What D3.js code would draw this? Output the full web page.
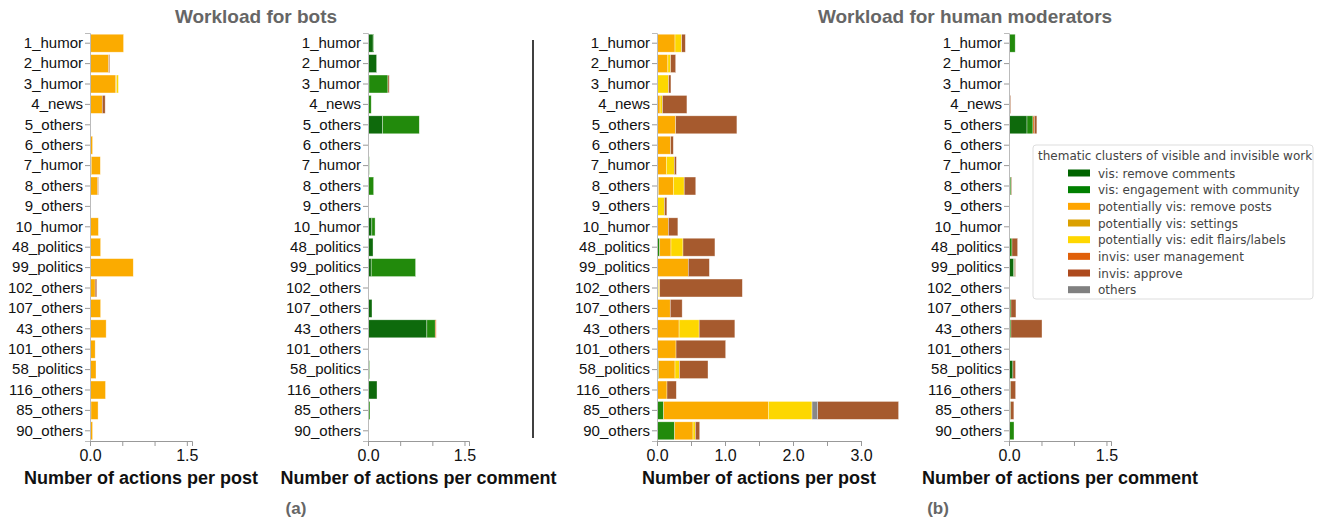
<!DOCTYPE html>
<html>
<head>
<meta charset="utf-8">
<script src="https://cdn.jsdelivr.net/npm/d3@7"></script>
<style>
  body { margin: 0; background: #fff; }
  svg { font-family: "Liberation Sans", Arial, sans-serif; }
  .legend text { font-family: "DejaVu Sans", "Bitstream Vera Sans", sans-serif; }
</style>
</head>
<body>
<svg id="chart" width="1325" height="521"></svg>
<script>
// subreddit categories, top to bottom
const categories = ["1_humor", "2_humor", "3_humor", "4_news", "5_others", "6_others", "7_humor",
    "8_others", "9_others", "10_humor", "48_politics", "99_politics", "102_others", "107_others",
    "43_others", "101_others", "58_politics", "116_others", "85_others", "90_others"];

// thematic clusters (legend order) and their colours
const clusters = ["vis: remove comments", "vis: engagement with community",
    "potentially vis: remove posts", "potentially vis: settings",
    "potentially vis: edit flairs/labels", "invis: user management", "invis: approve", "others"];
const clusterColors = ["#0e6a0c", "#228a0c", "#fbab00", "#d9a106", "#fdd700", "#e0640c", "#a65a2e", "#888888"];

// each row: values per cluster in the order of `clusters`
const botsPerPost = [
    [0, 0, 0.52, 0, 0, 0, 0, 0],
    [0, 0, 0.29, 0, 0, 0, 0.015, 0],
    [0, 0, 0.40, 0.01, 0.03, 0, 0, 0],
    [0, 0, 0.19, 0, 0, 0, 0.045, 0],
    [0, 0.01, 0, 0, 0, 0, 0, 0],
    [0, 0, 0.04, 0, 0, 0, 0, 0],
    [0, 0.02, 0.14, 0, 0, 0, 0, 0],
    [0, 0, 0.12, 0, 0, 0, 0.01, 0],
    [0, 0.005, 0, 0, 0, 0, 0, 0],
    [0, 0, 0.13, 0, 0, 0, 0, 0],
    [0, 0, 0.165, 0, 0, 0, 0, 0],
    [0, 0, 0.67, 0, 0, 0, 0, 0],
    [0, 0, 0.08, 0, 0, 0, 0.025, 0],
    [0, 0, 0.165, 0, 0, 0, 0, 0],
    [0, 0, 0.25, 0, 0, 0, 0, 0],
    [0, 0, 0.08, 0, 0, 0, 0, 0],
    [0, 0, 0.093, 0, 0, 0, 0, 0],
    [0, 0, 0.24, 0, 0, 0, 0, 0],
    [0, 0.015, 0.11, 0, 0, 0, 0, 0],
    [0, 0, 0.04, 0, 0, 0, 0, 0]
];

const botsPerComment = [
    [0.08, 0.01, 0, 0, 0, 0, 0, 0],
    [0.134, 0, 0, 0, 0, 0, 0, 0],
    [0.015, 0.295, 0, 0, 0, 0, 0.02, 0],
    [0.01, 0.04, 0, 0, 0, 0, 0, 0],
    [0.227, 0.57, 0, 0, 0, 0, 0, 0],
    [0, 0.005, 0, 0, 0, 0, 0, 0],
    [0, 0.02, 0, 0, 0, 0, 0, 0],
    [0.01, 0.078, 0, 0, 0, 0, 0, 0],
    [0, 0.003, 0, 0, 0, 0, 0, 0],
    [0.06, 0.05, 0, 0, 0, 0, 0, 0],
    [0.078, 0, 0, 0, 0, 0, 0, 0],
    [0.05, 0.69, 0, 0, 0, 0, 0, 0],
    [0, 0.005, 0, 0, 0, 0, 0, 0],
    [0.062, 0, 0, 0, 0, 0, 0, 0],
    [0.915, 0.13, 0, 0, 0, 0.015, 0, 0],
    [0, 0.005, 0, 0, 0, 0, 0, 0],
    [0.02, 0.006, 0, 0, 0, 0, 0, 0],
    [0.14, 0, 0, 0, 0, 0, 0, 0],
    [0, 0.03, 0, 0, 0, 0, 0, 0],
    [0, 0.003, 0, 0, 0, 0, 0, 0]
];

const humansPerPost = [
    [0, 0, 0.265, 0, 0.098, 0, 0.054, 0],
    [0, 0.01, 0.15, 0, 0.04, 0, 0.075, 0],
    [0, 0, 0.01, 0, 0.16, 0, 0.035, 0],
    [0, 0, 0.045, 0, 0.035, 0, 0.36, 0],
    [0, 0.005, 0.27, 0, 0, 0, 0.9, 0],
    [0, 0, 0.2, 0, 0, 0, 0.04, 0],
    [0, 0, 0.137, 0, 0.118, 0, 0.03, 0],
    [0, 0.02, 0.22, 0, 0.16, 0, 0.17, 0],
    [0, 0, 0.01, 0, 0.1, 0, 0.035, 0],
    [0, 0, 0.167, 0, 0, 0, 0.14, 0],
    [0.01, 0.03, 0.166, 0, 0.176, 0, 0.47, 0],
    [0, 0, 0.46, 0, 0, 0, 0.31, 0],
    [0, 0, 0.02, 0, 0.02, 0, 1.215, 0],
    [0, 0.005, 0.19, 0, 0, 0, 0.175, 0],
    [0, 0.005, 0.32, 0, 0.295, 0, 0.525, 0],
    [0, 0, 0.28, 0, 0, 0, 0.73, 0],
    [0, 0.025, 0.24, 0, 0.065, 0, 0.42, 0],
    [0, 0, 0.147, 0, 0, 0, 0.137, 0],
    [0, 0.098, 1.54, 0, 0.642, 0, 1.19, 0.083],
    [0, 0.26, 0.27, 0, 0.034, 0, 0.064, 0]
];

const humansPerComment = [
    [0.01, 0.085, 0, 0, 0, 0, 0, 0],
    [0, 0.003, 0, 0, 0, 0, 0, 0],
    [0, 0.003, 0, 0, 0, 0, 0, 0],
    [0, 0, 0, 0, 0, 0.01, 0.015, 0],
    [0.277, 0.092, 0, 0, 0, 0.02, 0.04, 0],
    [0, 0.005, 0, 0, 0, 0, 0, 0],
    [0, 0.003, 0, 0, 0, 0, 0, 0],
    [0, 0.03, 0, 0, 0, 0, 0.01, 0],
    [0, 0.003, 0, 0, 0, 0, 0, 0],
    [0, 0, 0, 0, 0, 0, 0.01, 0],
    [0, 0.046, 0, 0, 0, 0, 0.087, 0],
    [0.07, 0.015, 0, 0, 0, 0, 0.015, 0],
    [0, 0.005, 0, 0, 0, 0, 0, 0],
    [0, 0.03, 0, 0, 0, 0, 0.077, 0],
    [0, 0.03, 0, 0, 0, 0, 0.478, 0],
    [0, 0.015, 0, 0, 0, 0, 0, 0],
    [0.06, 0, 0, 0, 0, 0, 0.04, 0],
    [0, 0.025, 0, 0, 0, 0, 0.077, 0],
    [0, 0.025, 0, 0, 0, 0, 0.05, 0],
    [0, 0.077, 0, 0, 0, 0, 0, 0]
];

// tick values and which of them carry a label
const ticksSmall = [0, 0.5, 1, 1.5];
const labelsSmall = [0, 1.5];
const ticksLarge = [0, 0.5, 1, 1.5, 2, 2.5, 3];
const labelsLarge = [0, 1, 2, 3];

// stacking order: "others" sits before the invisible work
const stackOrder = [0, 1, 2, 3, 4, 7, 5, 6];

const svg = d3.select("#chart");

const y = d3.scaleBand()
    .domain(categories)
    .range([33, 441])
    .paddingInner(0.12)
    .paddingOuter(0.06);

const color = d3.scaleOrdinal().domain(clusters).range(clusterColors);

function drawPanel(rows, left, right, maxValue, tickVals, labelVals, axisTitle) {
    const x = d3.scaleLinear().domain([0, maxValue]).range([left, right]);
    const g = svg.append("g");

    const table = rows.map((r, i) => {
        const o = { cat: categories[i] };
        clusters.forEach((c, j) => o[c] = r[j]);
        return o;
    });
    const series = d3.stack()
        .keys(clusters)
        .order(() => stackOrder)(table);

    g.selectAll("g.layer")
        .data(series)
        .enter()
        .append("g")
        .attr("class", "layer")
        .attr("fill", d => color(d.key))
        .selectAll("rect")
        .data(d => d.filter(p => p[1] - p[0] > 0))
        .enter()
        .append("rect")
        .attr("x", d => x(d[0]))
        .attr("width", d => x(d[1]) - x(d[0]))
        .attr("y", d => y(d.data.cat))
        .attr("height", y.bandwidth())
        .attr("stroke", "#fff")
        .attr("stroke-opacity", 0.6)
        .attr("stroke-width", 0.6);

    // category axis
    const yAxis = g.append("g")
        .attr("transform", `translate(${left},0)`)
        .call(d3.axisLeft(y).tickSize(5).tickPadding(2));
    yAxis.selectAll("text").attr("font-size", 15).attr("fill", "#111");
    yAxis.selectAll("line").attr("stroke", "#999");
    yAxis.select(".domain").attr("stroke", "#bbb");

    // value axis
    const xAxis = g.append("g")
        .attr("transform", `translate(0,441)`)
        .call(d3.axisBottom(x).tickValues(tickVals).tickSizeOuter(0).tickSize(5).tickPadding(4)
            .tickFormat(v => labelVals.includes(v) ? d3.format(".1f")(v) : ""));
    xAxis.selectAll("text").attr("font-size", 16).attr("fill", "#111");
    xAxis.selectAll("line").attr("stroke", "#999");
    xAxis.select(".domain").attr("stroke", "#999");

    g.append("text")
        .attr("x", (left + right) / 2)
        .attr("y", 484)
        .attr("text-anchor", "middle")
        .attr("font-size", 18)
        .attr("font-weight", "bold")
        .attr("fill", "#111")
        .text(axisTitle);
}

drawPanel(botsPerPost, 90, 192, 1.58, ticksSmall, labelsSmall, "Number of actions per post");
drawPanel(botsPerComment, 368, 469, 1.57, ticksSmall, labelsSmall, "Number of actions per comment");
drawPanel(humansPerPost, 657, 861, 3, ticksLarge, labelsLarge, "Number of actions per post");
drawPanel(humansPerComment, 1009, 1111, 1.57, ticksSmall, labelsSmall, "Number of actions per comment");

// titles
svg.append("text").attr("x", 256).attr("y", 23).attr("text-anchor", "middle")
    .attr("font-size", 19).attr("font-weight", "bold").attr("fill", "#666")
    .text("Workload for bots");
svg.append("text").attr("x", 965).attr("y", 23).attr("text-anchor", "middle")
    .attr("font-size", 19).attr("font-weight", "bold").attr("fill", "#666")
    .text("Workload for human moderators");

// separator between (a) and (b)
svg.append("line").attr("x1", 533).attr("x2", 533).attr("y1", 40).attr("y2", 438)
    .attr("stroke", "#000").attr("stroke-width", 1.5);

svg.append("text").attr("x", 296).attr("y", 514).attr("text-anchor", "middle")
    .attr("font-size", 17).attr("font-weight", "bold").attr("fill", "#666").text("(a)");
svg.append("text").attr("x", 938).attr("y", 514).attr("text-anchor", "middle")
    .attr("font-size", 17).attr("font-weight", "bold").attr("fill", "#666").text("(b)");

// legend
const legendColors = ["#006400", "#008000", "#ffa500", "#daa000", "#ffd700", "#e0600a", "#ad4a1e", "#808080"];
const legend = svg.append("g").attr("class", "legend").attr("transform", "translate(1033,145)");
legend.append("rect")
    .attr("x", 0).attr("y", 0).attr("width", 280).attr("height", 154)
    .attr("rx", 3).attr("fill", "#fff").attr("stroke", "#ddd");
legend.append("text").attr("x", 5).attr("y", 15)
    .attr("font-size", 12).attr("fill", "#444")
    .text("thematic clusters of visible and invisible work");
const item = legend.selectAll("g.item")
    .data(clusters)
    .enter()
    .append("g")
    .attr("class", "item")
    .attr("transform", (d, i) => `translate(0,${28 + i * 16.67})`);
item.append("rect")
    .attr("x", 35).attr("y", -3.5).attr("width", 22).attr("height", 7)
    .attr("fill", (d, i) => legendColors[i]);
item.append("text")
    .attr("x", 65).attr("y", 4.5)
    .attr("font-size", 12).attr("fill", "#444")
    .text(d => d);
</script>
</body>
</html>
